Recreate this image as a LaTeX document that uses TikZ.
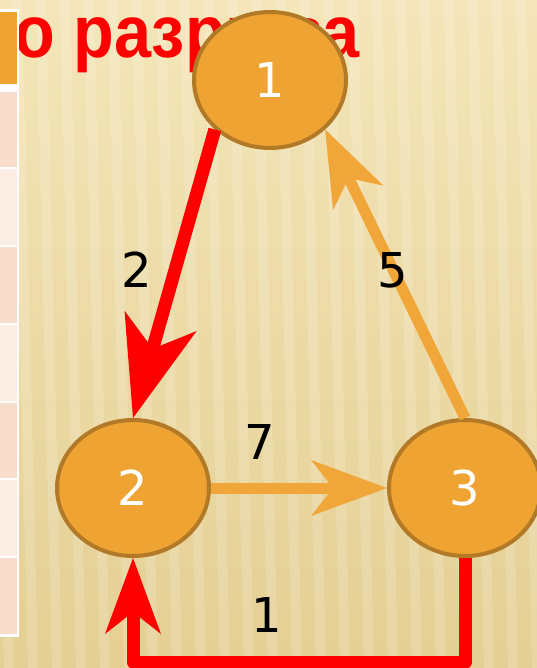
\documentclass[tikz,border=0pt]{standalone}
\usepackage{fontspec}
\usepackage{graphicx}
\usetikzlibrary{arrows.meta,shapes.geometric,calc}

\newfontfamily\headfont{Liberation Sans}
\newfontfamily\numfont{DejaVu Sans}

\definecolor{papertop}{HTML}{F4E6BA}
\definecolor{paperbot}{HTML}{E4CF93}
\definecolor{vfill}{HTML}{EEA332}
\definecolor{vrim}{HTML}{B27A27}
\definecolor{arcorange}{HTML}{F0A638}
\definecolor{cellhead}{HTML}{EEA332}
\definecolor{celldark}{HTML}{F9DDCC}
\definecolor{celllight}{HTML}{FCEEE5}

\begin{document}
\begin{tikzpicture}
  [
    x=1pt, y=-1pt,
    vertex/.style = {ellipse, draw=vrim, line width=4pt, fill=vfill,
                     minimum width=152pt, minimum height=136pt, inner sep=0pt,
                     text=white, font=\numfont\fontsize{48}{48}\selectfont},
    weight/.style = {inner sep=0pt, font=\numfont\fontsize{48}{48}\selectfont},
    redarc/.style = {draw=red, line width=13pt, line join=round},
    orarc/.style  = {draw=arcorange, line width=11pt},
    bighead/.style   = {-{Stealth[length=101pt, width=75pt, inset=29pt, line width=0pt]}},
    smallhead/.style = {-{Stealth[length=76pt, width=56pt, inset=22pt, line width=0pt]}},
  ]
  \useasboundingbox (0,0) rectangle (537,668);

  % paper with faint stripes
  \shade[top color=papertop, bottom color=paperbot] (0,0) rectangle (537,668);
  \foreach \sx in {-60,-36,...,600}
    \fill[white, opacity=.16] (\sx,0) -- (\sx+10,0) -- (\sx+26,668) -- (\sx+16,668) -- cycle;

  % heading, partly hidden
  \node[anchor=base west, inner sep=0pt, text=red,
        font=\headfont\bfseries\fontsize{74}{74}\selectfont]
    (title) at (14,58) {\scalebox{.9}[1]{о разрыва}};

  % table column on the left
  \fill[white] (0,9) rectangle (19,637);
  \fill[cellhead] (0,12) rectangle (16.5,84);
  \foreach \ytop/\ybot/\tone in {92/167/celldark, 169/245/celllight, 247/323/celldark,
                                  325/401/celllight, 403/478/celldark, 480/556/celllight,
                                  558/634/celldark}
    \fill[\tone] (0,\ytop) rectangle (16.5,\ybot);

  % vertices
  \node[vertex] (n1) at (270,80) {1};
  \node[vertex] (n2) at (133,488) {2};
  \node[vertex] (n3) at (465,488) {3};

  % arcs
  \coordinate (low) at (300,662);
  \draw[redarc, bighead] (n1.south west) -- (n2.north);
  \draw[orarc, smallhead] (n3.north) -- (n1.south east);
  \draw[orarc, smallhead] (n2.east) -- (n3.west);
  \draw[redarc, smallhead] (n3.south) -- (n3.south |- low) -| (n2.south);

  % weights
  \node[weight] (w12) at (137,270) {2};
  \node[weight] (w31) at (393,270) {5};
  \node[weight] (w23) at (260,442) {7};
  \node[weight] (w32) at (267,615) {1};
\end{tikzpicture}
\end{document}
